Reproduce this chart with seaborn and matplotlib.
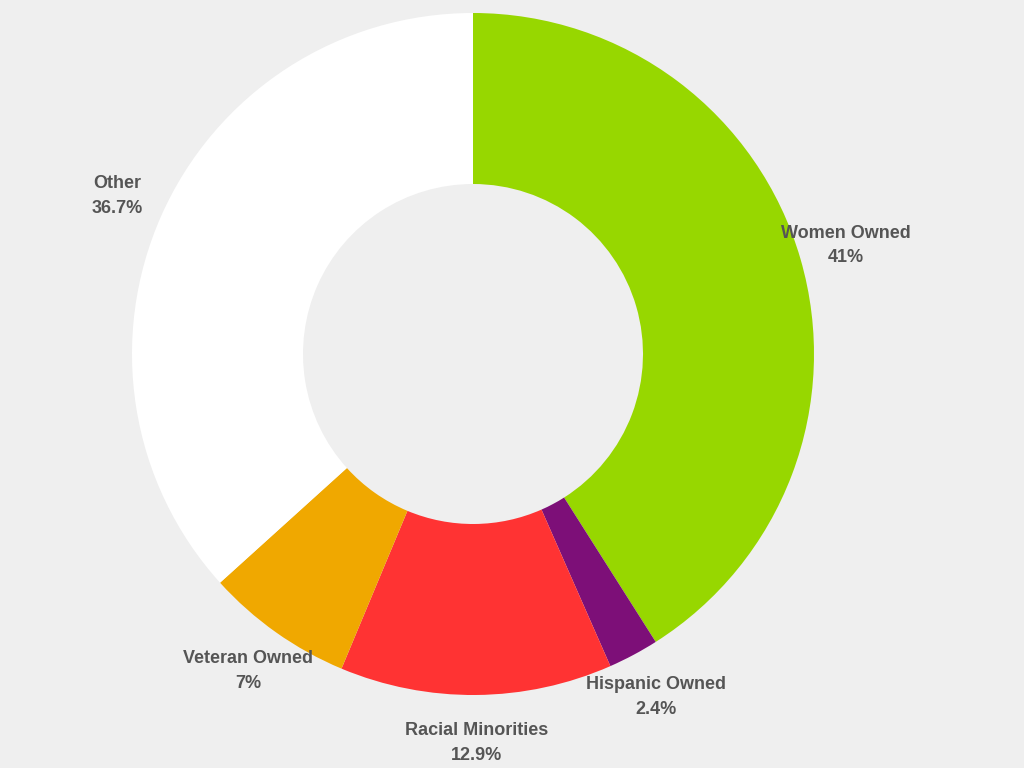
import matplotlib
matplotlib.use("Agg")
import matplotlib.pyplot as plt
import seaborn as sns

categories = ["Women Owned", "Hispanic Owned", "Racial Minorities", "Veteran Owned", "Other"]
values = [41, 2.4, 12.9, 7, 36.7]
value_labels = ["41%", "2.4%", "12.9%", "7%", "36.7%"]
colors = ["#97d700", "#7d0f78", "#ff3333", "#f0a800", "#ffffff"]

sns.set_theme(style="white", rc={"figure.facecolor": "#efefef", "axes.facecolor": "#efefef"})
fig = plt.figure(figsize=(10.24, 7.68), dpi=100)
ax = fig.add_axes([0, 0, 1, 1])
ax.set_xlim(0, 1024)
ax.set_ylim(0, 768)
ax.set_aspect("equal")
ax.axis("off")

labels = [f"{c}\n{v}" for c, v in zip(categories, value_labels)]
wedges, texts = ax.pie(values, colors=colors, startangle=90, counterclock=False,
                       center=(473, 414), radius=341,
                       wedgeprops=dict(width=171, edgecolor="none"),
                       labels=labels, labeldistance=1.14,
                       textprops=dict(color="#555555", fontsize=13, fontweight="bold",
                                      fontfamily="Liberation Sans", linespacing=1.6))
for t in texts:
    t.set_horizontalalignment("center")
    t.set_verticalalignment("center")
ax.set_xlim(0, 1024)
ax.set_ylim(0, 768)
fig.savefig("out.png", dpi=100, facecolor="#efefef")
